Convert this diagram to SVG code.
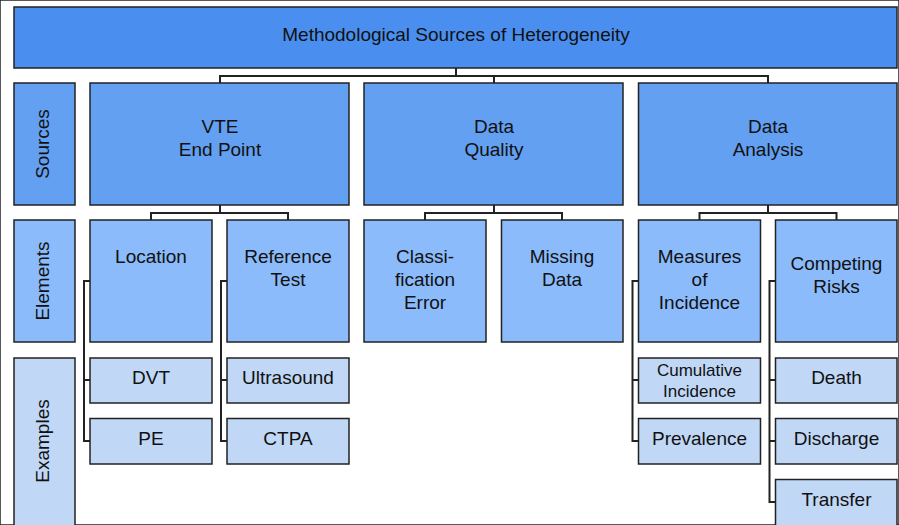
<svg xmlns="http://www.w3.org/2000/svg" width="899" height="525" viewBox="0 0 899 525">
<style>
rect{stroke:#222;stroke-width:1.5}
.t0{fill:#4a8ff0}
.t1{fill:#64a0f1}
.t2{fill:#8bbbfb}
.t3{fill:#c0d7f6}
text{font-family:"Liberation Sans",Arial,sans-serif;font-size:19px;fill:#111;text-anchor:middle}
.sm{font-size:17px}
#connectors path{fill:none;stroke:#222;stroke-width:2}
</style>
<rect width="899" height="525" fill="#fff" stroke="none"/>
<g id="connectors">
<path d="M456,68V76M220,83V76H768V83M494,76V83"/>
<path d="M220,205V213M151,220V213H288V220"/>
<path d="M494,205V213M425,220V213H562V220"/>
<path d="M768,205V213M699.5,220V213H836.5V220"/>
<path d="M90,281H84V441H90M84,380H90"/>
<path d="M227,281H221V441H227M221,380H227"/>
<path d="M638.5,281H632.5V441H638.5M632.5,380H638.5"/>
<path d="M775.5,281H769.5V502H775.5M769.5,380H775.5M769.5,441H775.5"/>
</g>
<g id="title"><rect class="t0" x="14" y="7" width="883" height="61"/><text x="456" y="41">Methodological Sources of Heterogeneity</text></g>
<g id="sources"><rect class="t1" x="14" y="83" width="61" height="122"/><text transform="translate(49,144) rotate(-90)">Sources</text></g>
<g id="elements"><rect class="t2" x="14" y="220" width="61" height="122"/><text transform="translate(49,281) rotate(-90)">Elements</text></g>
<g id="examples"><rect class="t3" x="14" y="358" width="61" height="170"/><text transform="translate(49,441) rotate(-90)">Examples</text></g>
<g id="vte"><rect class="t1" x="90" y="83" width="259" height="122"/><text x="220" y="133">VTE</text><text x="220" y="156">End Point</text></g>
<g id="dataquality"><rect class="t1" x="364" y="83" width="259" height="122"/><text x="494" y="133">Data</text><text x="494" y="156">Quality</text></g>
<g id="dataanalysis"><rect class="t1" x="638.5" y="83" width="258.5" height="122"/><text x="768" y="133">Data</text><text x="768" y="156">Analysis</text></g>
<g id="location"><rect class="t2" x="90" y="220" width="122" height="122"/><text x="151" y="263">Location</text></g>
<g id="reftest"><rect class="t2" x="227" y="220" width="122" height="122"/><text x="288" y="263">Reference</text><text x="288" y="286">Test</text></g>
<g id="classerror"><rect class="t2" x="364" y="220" width="122" height="122"/><text x="425" y="263">Classi-</text><text x="425" y="286">fication</text><text x="425" y="309">Error</text></g>
<g id="missing"><rect class="t2" x="501.5" y="220" width="121.5" height="122"/><text x="562" y="263">Missing</text><text x="562" y="286">Data</text></g>
<g id="measures"><rect class="t2" x="638.5" y="220" width="122" height="122"/><text x="699.5" y="263">Measures</text><text x="699.5" y="286">of</text><text x="699.5" y="309">Incidence</text></g>
<g id="competing"><rect class="t2" x="775.5" y="220" width="121.5" height="122"/><text x="836.5" y="270">Competing</text><text x="836.5" y="293">Risks</text></g>
<g id="dvt"><rect class="t3" x="90" y="358" width="122" height="45"/><text x="151" y="384">DVT</text></g>
<g id="pe"><rect class="t3" x="90" y="418.5" width="122" height="45.5"/><text x="151" y="445">PE</text></g>
<g id="ultrasound"><rect class="t3" x="227" y="358" width="122" height="45"/><text x="288" y="384">Ultrasound</text></g>
<g id="ctpa"><rect class="t3" x="227" y="418.5" width="122" height="45.5"/><text x="288" y="445">CTPA</text></g>
<g id="cumulative"><rect class="t3" x="638.5" y="358" width="122" height="45"/><text class="sm" x="699.5" y="376">Cumulative</text><text class="sm" x="699.5" y="396.5">Incidence</text></g>
<g id="prevalence"><rect class="t3" x="638.5" y="418.5" width="122" height="45.5"/><text x="699.5" y="445">Prevalence</text></g>
<g id="death"><rect class="t3" x="775.5" y="358" width="121.5" height="45"/><text x="836.5" y="384">Death</text></g>
<g id="discharge"><rect class="t3" x="775.5" y="418.5" width="121.5" height="45.5"/><text x="836.5" y="445">Discharge</text></g>
<g id="transfer"><rect class="t3" x="775.5" y="479.5" width="121.5" height="48"/><text x="836.5" y="506">Transfer</text></g>
</svg>
